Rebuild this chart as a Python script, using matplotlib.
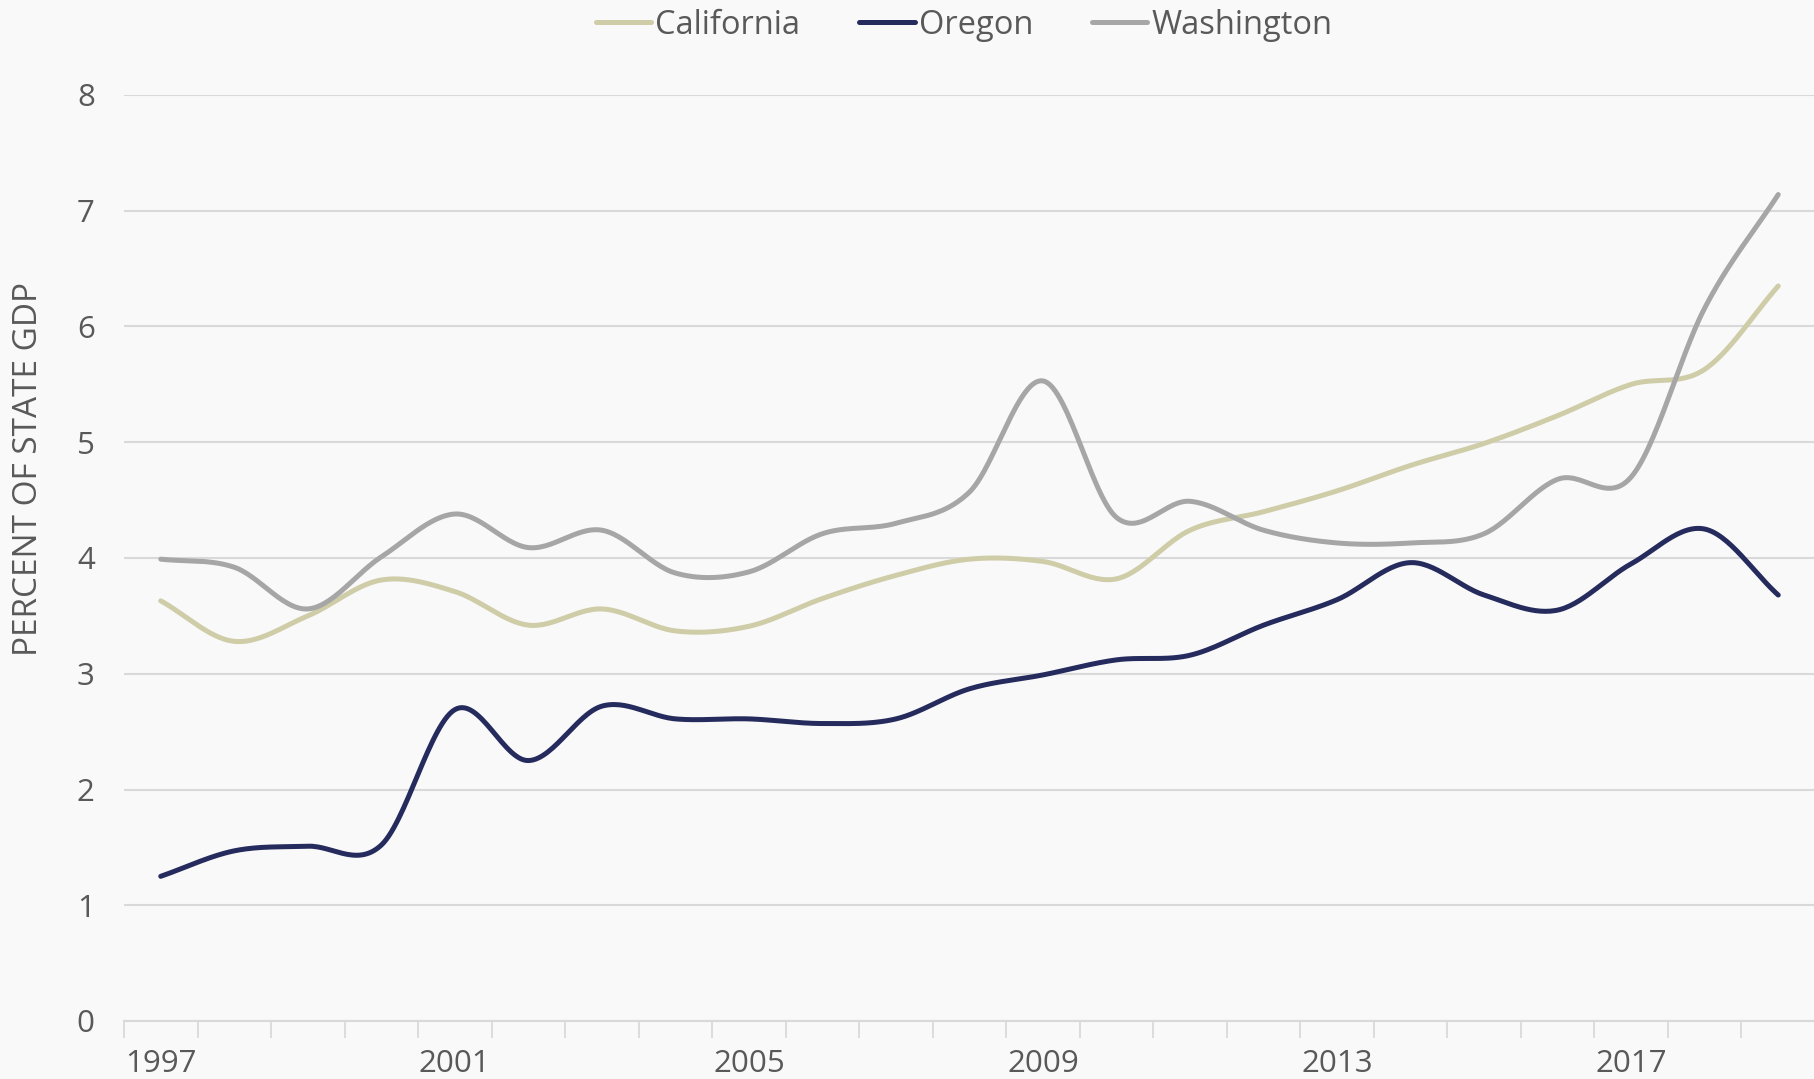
import numpy as np
import matplotlib
matplotlib.use("Agg")
import matplotlib.pyplot as plt

years = list(range(1997, 2020))
california = [3.63, 3.28, 3.50, 3.81, 3.71, 3.42, 3.56, 3.37, 3.41, 3.65, 3.85, 3.99,
              3.97, 3.82, 4.24, 4.40, 4.58, 4.80, 4.99, 5.23, 5.50, 5.63, 6.35]
oregon = [1.25, 1.47, 1.51, 1.52, 2.69, 2.25, 2.72, 2.61, 2.61, 2.57, 2.61, 2.87,
          2.99, 3.12, 3.16, 3.42, 3.64, 3.96, 3.68, 3.55, 3.95, 4.25, 3.68]
washington = [3.99, 3.92, 3.56, 4.01, 4.38, 4.09, 4.24, 3.87, 3.88, 4.21, 4.30, 4.57,
              5.53, 4.35, 4.49, 4.24, 4.13, 4.13, 4.21, 4.68, 4.70, 6.16, 7.14]
series_names = ["California", "Oregon", "Washington"]
colors = ["#CFCCA8", "#262B5E", "#A6A6A6"]
tick_years = [1997, 2001, 2005, 2009, 2013, 2017]
yticks = list(range(0, 9))

TEXT = "#595959"
GRID = "#D9D9D9"
BG = "#F9F9F9"
FONT = ["Open Sans", "DejaVu Sans"]
plt.rcParams["font.family"] = FONT


def smooth(xs, ys, n=30):
    """Catmull-Rom style smoothing (similar to spreadsheet smoothed lines)."""
    xs = np.asarray(xs, float)
    ys = np.asarray(ys, float)
    px = np.concatenate([[2 * xs[0] - xs[1]], xs, [2 * xs[-1] - xs[-2]]])
    py = np.concatenate([[ys[0]], ys, [ys[-1]]])
    outx, outy = [], []
    t = np.linspace(0, 1, n, endpoint=False)
    for i in range(1, len(px) - 2):
        x0, x1, x2, x3 = px[i - 1:i + 3]
        y0, y1, y2, y3 = py[i - 1:i + 3]
        if i == 1:
            y0 = y1 - (y2 - y1)
        if i == len(px) - 3:
            y3 = y2 + (y2 - y1)
        c1x, c1y = x1 + (x2 - x0) / 6, y1 + (y2 - y0) / 6
        c2x, c2y = x2 - (x3 - x1) / 6, y2 - (y3 - y1) / 6
        bx = (1 - t) ** 3 * x1 + 3 * (1 - t) ** 2 * t * c1x + 3 * (1 - t) * t ** 2 * c2x + t ** 3 * x2
        by = (1 - t) ** 3 * y1 + 3 * (1 - t) ** 2 * t * c1y + 3 * (1 - t) * t ** 2 * c2y + t ** 3 * y2
        outx.extend(bx)
        outy.extend(by)
    outx.append(xs[-1])
    outy.append(ys[-1])
    return np.array(outx), np.array(outy)


fig = plt.figure(figsize=(18.15, 10.79), dpi=100, facecolor=BG)
ax = fig.add_axes([124 / 1815, 1 - 1021 / 1079, 1 - 124 / 1815, (1021 - 95) / 1079])
ax.set_facecolor(BG)

idx = np.arange(len(years))
for name, vals, c in zip(series_names, [california, oregon, washington], colors):
    sx, sy = smooth(idx, vals)
    ax.plot(sx, sy, color=c, lw=3.6, solid_capstyle="round", label=name, zorder=3)

ax.set_xlim(-0.5, len(years) - 0.5)
ax.set_ylim(0, 8)
ax.set_yticks(yticks)
ax.set_yticklabels([str(v) for v in yticks])
ax.grid(axis="y", color=GRID, lw=1.5, zorder=0)
ax.set_axisbelow(True)

ax.set_xticks([years.index(y) for y in tick_years])
ax.set_xticklabels([str(y) for y in tick_years])
ax.set_xticks(np.arange(-0.5, len(years)), minor=True)
ax.tick_params(axis="x", which="major", length=0, pad=20, labelsize=22.5, labelcolor=TEXT)
ax.tick_params(axis="x", which="minor", length=12, width=1.3, color=GRID, direction="out")
ax.tick_params(axis="y", length=0, pad=21, labelsize=22.5, labelcolor=TEXT)

for s in ["top", "right", "left"]:
    ax.spines[s].set_visible(False)
ax.spines["bottom"].set_color(GRID)
ax.spines["bottom"].set_linewidth(1.5)

fig.text(29 / 1815, 1 - 469 / 1079, "PERCENT OF STATE GDP", rotation=90,
         ha="center", va="center", fontsize=24, color=TEXT)

handles, labels = ax.get_legend_handles_labels()
leg = fig.legend(handles, labels, loc="center", bbox_to_anchor=(964 / 1815, 1 - 25 / 1079),
                 ncol=3, frameon=False, fontsize=23.5, handlelength=1.7, handletextpad=0.12,
                 columnspacing=1.8, labelcolor=TEXT)

fig.savefig("out.png", dpi=100, facecolor=BG)
